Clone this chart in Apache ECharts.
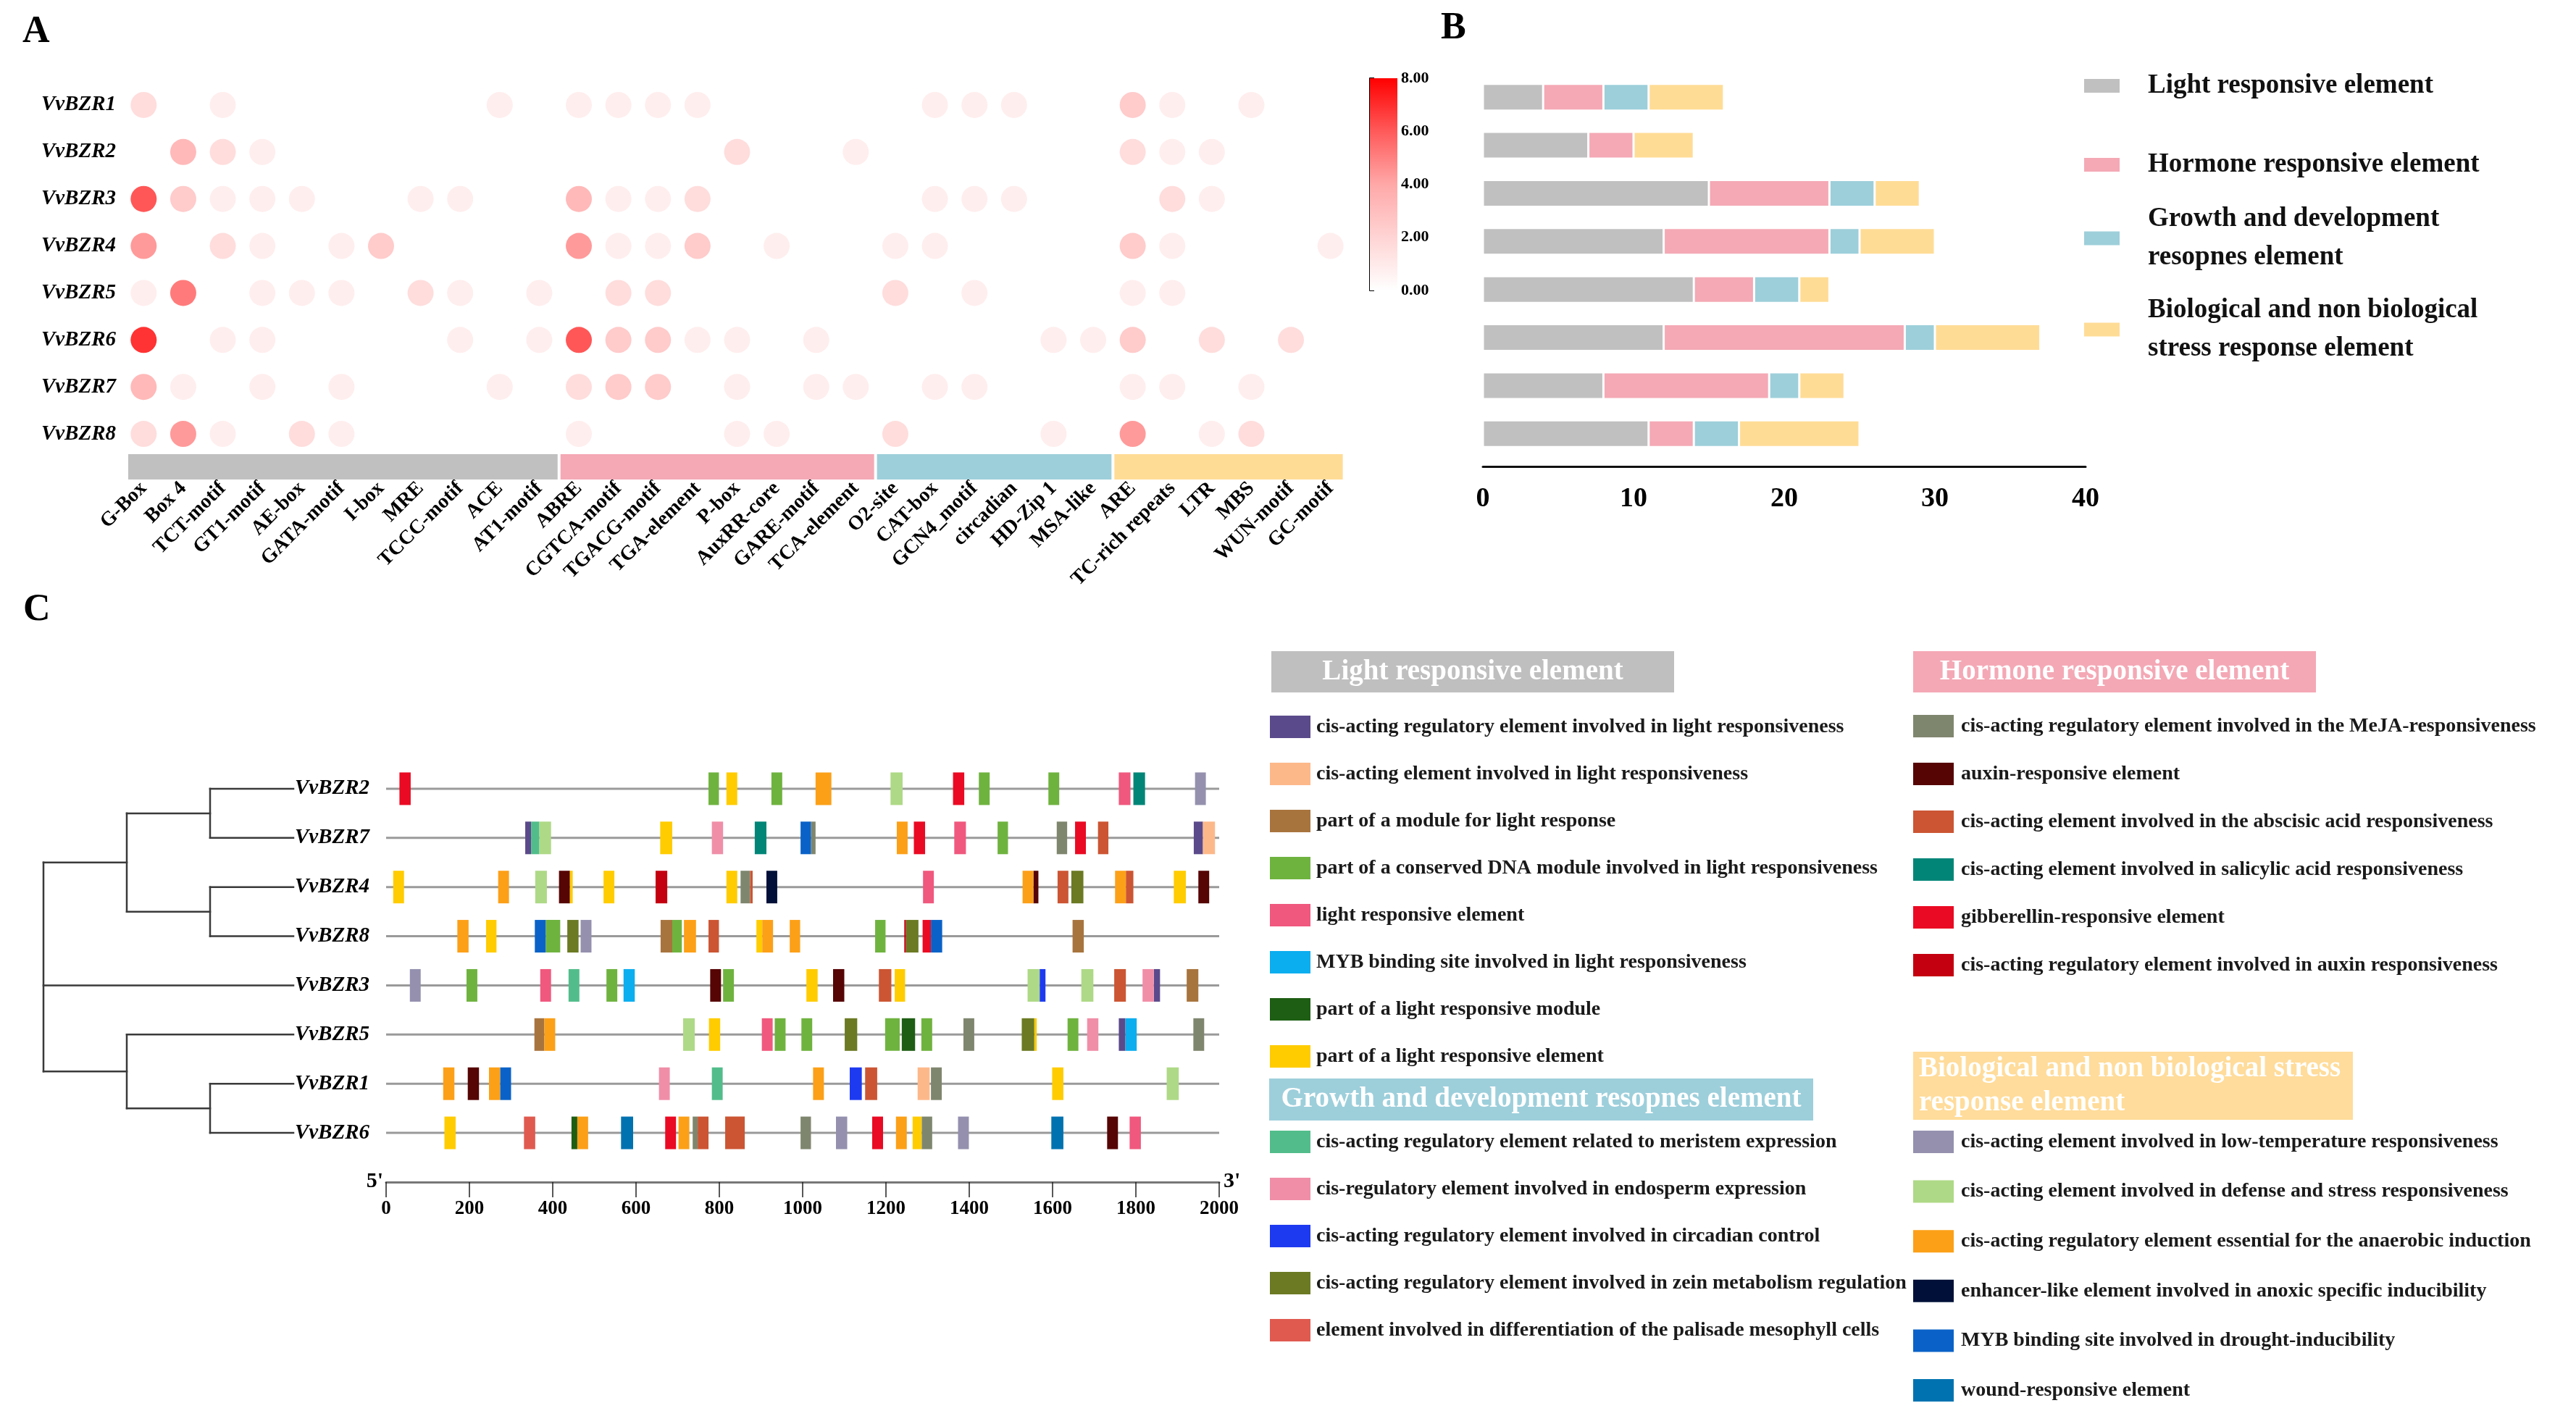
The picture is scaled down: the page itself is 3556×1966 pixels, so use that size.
<!DOCTYPE html>
<html>
<head>
<meta charset="utf-8">
<script src="https://cdn.jsdelivr.net/npm/echarts@6/dist/echarts.min.js"></script>
<style>html,body{margin:0;padding:0;background:#fff}#chart{width:3556px;height:1966px}</style>
</head>
<body>
<div id="chart"></div>
<script>
// ---------------- Panel A data ----------------
const genesA = ['VvBZR1','VvBZR2','VvBZR3','VvBZR4','VvBZR5','VvBZR6','VvBZR7','VvBZR8'];
const motifNames = ['G-Box','Box 4','TCT-motif','GT1-motif','AE-box','GATA-motif','I-box','MRE','TCCC-motif','ACE','AT1-motif',
  'ABRE','CGTCA-motif','TGACG-motif','TGA-element','P-box','AuxRR-core','GARE-motif','TCA-element',
  'O2-site','CAT-box','GCN4_motif','circadian','HD-Zip 1','MSA-like',
  'ARE','TC-rich repeats','LTR','MBS','WUN-motif','GC-motif'];
const heat_VvBZR1 = [2,0,1,0,0,0,0,0,0,1,0, 1,1,1,1,0,0,0,0, 0,1,1,1,0,0, 3,1,0,1,0,0];
const heat_VvBZR2 = [0,4,2,1,0,0,0,0,0,0,0, 0,0,0,0,2,0,0,1, 0,0,0,0,0,0, 2,1,1,0,0,0];
const heat_VvBZR3 = [7,3,1,1,1,0,0,1,1,0,0, 4,1,1,2,0,0,0,0, 0,1,1,1,0,0, 0,2,1,0,0,0];
const heat_VvBZR4 = [5,0,2,1,0,1,3,0,0,0,0, 5,1,1,3,0,1,0,0, 1,1,0,0,0,0, 3,1,0,0,0,1];
const heat_VvBZR5 = [1,6,0,1,1,1,0,2,1,0,1, 0,2,2,0,0,0,0,0, 2,0,1,0,0,0, 1,1,0,0,0,0];
const heat_VvBZR6 = [8,0,1,1,0,0,0,0,1,0,1, 7,3,3,1,1,0,1,0, 0,0,0,0,1,1, 3,0,2,0,2,0];
const heat_VvBZR7 = [4,1,0,1,0,1,0,0,0,1,0, 2,3,3,0,1,0,1,1, 0,1,1,0,0,0, 1,1,0,1,0,0];
const heat_VvBZR8 = [2,5,1,0,2,1,0,0,0,0,0, 1,0,0,0,1,1,0,0, 2,0,0,0,1,0, 5,0,1,2,0,0];
const heatRows = [heat_VvBZR1,heat_VvBZR2,heat_VvBZR3,heat_VvBZR4,heat_VvBZR5,heat_VvBZR6,heat_VvBZR7,heat_VvBZR8];
const groupNames = ['Light responsive element','Hormone responsive element','Growth and development\nresopnes element','Biological and non biological\nstress response element'];
const groupStart = [0, 11, 19, 25];
const groupEnd = [10, 18, 24, 30];
const groupColors = ['#C0C0C0','#F4A9B5','#9DCFDA','#FFDC96'];
const heatColors = ['#ffffff','#ffd4d4','#ffa8a8','#ff5a5a','#ff0000'];
const colorbarTicks = [0, 8, 2];

// ---------------- Panel B data ----------------
const bLight   = [4, 7, 15, 12, 14, 12, 8, 11];
const bHormone = [4, 3, 8, 11, 4, 16, 11, 3];
const bGrowth  = [3, 0, 3, 2, 3, 2, 2, 3];
const bStress  = [5, 4, 3, 5, 2, 7, 3, 8];

// ---------------- Panel C data ----------------
const genesC = ['VvBZR2','VvBZR7','VvBZR4','VvBZR8','VvBZR3','VvBZR5','VvBZR1','VvBZR6'];
const geneLength = [2000,2000,2000,2000,2000,2000,2000,2000];
const treeTopology = [[['VvBZR2','VvBZR7'],['VvBZR4','VvBZR8']],'VvBZR3',['VvBZR5',['VvBZR1','VvBZR6']]];
const elemCodes = ['L1','L2','L3','L4','L5','L6','L7','L8','G1','G2','G3','G4','G5','H1','H2','H3','H4','H5','H6','S1','S2','S3','S4','S5','S6'];
const elemNames = [
  'cis-acting regulatory element involved in light responsiveness',
  'cis-acting element involved in light responsiveness',
  'part of a module for light response',
  'part of a conserved DNA module involved in light responsiveness',
  'light responsive element',
  'MYB binding site involved in light responsiveness',
  'part of a light responsive module',
  'part of a light responsive element',
  'cis-acting regulatory element related to meristem expression',
  'cis-regulatory element involved in endosperm expression',
  'cis-acting regulatory element involved in circadian control',
  'cis-acting regulatory element involved in zein metabolism regulation',
  'element involved in differentiation of the palisade mesophyll cells',
  'cis-acting regulatory element involved in the MeJA-responsiveness',
  'auxin-responsive element',
  'cis-acting element involved in the abscisic acid responsiveness',
  'cis-acting element involved in salicylic acid responsiveness',
  'gibberellin-responsive element',
  'cis-acting regulatory element involved in auxin responsiveness',
  'cis-acting element involved in low-temperature responsiveness',
  'cis-acting element involved in defense and stress responsiveness',
  'cis-acting regulatory element essential for the anaerobic induction',
  'enhancer-like element involved in anoxic specific inducibility',
  'MYB binding site involved in drought-inducibility',
  'wound-responsive element'];
const elemColors = ['#5B4A8B','#FDB88A','#A8743E','#6FB33F','#F0587E','#0BAEEF','#1E5E14','#FFCC00',
  '#52BD8B','#F08EA8','#1E3AF0','#6B7A23','#E05A50',
  '#7F866E','#560404','#CC5533','#008577','#EA0A23','#C40010',
  '#9490AE','#AED986','#FCA018','#001038','#0A62C8','#0072B0'];
const motifs_VvBZR2 = [[32,59,'H5'],[774,799,'L4'],[817,843,'L8'],[925,951,'L4'],[1031,1069,'S3'],[1211,1240,'S2'],[1361,1388,'H5'],[1423,1449,'L4'],[1590,1616,'L4'],[1759,1787,'L5'],[1794,1822,'H4'],[1942,1968,'S1']];
const motifs_VvBZR7 = [[334,348,'L1'],[348,368,'G1'],[368,396,'S2'],[658,687,'L8'],[782,809,'G2'],[885,913,'H4'],[995,1020,'S5'],[1020,1031,'H1'],[1226,1252,'S3'],[1267,1294,'H5'],[1364,1392,'L5'],[1468,1493,'L4'],[1610,1635,'H1'],[1654,1680,'H5'],[1709,1734,'H3'],[1939,1961,'L1'],[1961,1990,'L2']];
const motifs_VvBZR4 = [[17,43,'L8'],[269,295,'S3'],[358,386,'S2'],[415,441,'H2'],[441,448,'L8'],[522,548,'L8'],[647,675,'H6'],[817,843,'L8'],[851,874,'H1'],[874,880,'H3'],[913,939,'S4'],[1289,1315,'L5'],[1528,1554,'S3'],[1554,1566,'H2'],[1612,1638,'H3'],[1645,1674,'G4'],[1750,1776,'S3'],[1776,1794,'H3'],[1891,1920,'L8'],[1950,1976,'H2']];
const motifs_VvBZR8 = [[171,198,'S3'],[240,265,'L8'],[357,383,'S5'],[383,418,'L4'],[435,462,'G4'],[467,493,'S1'],[659,687,'L3'],[687,710,'L4'],[715,744,'S3'],[774,799,'H3'],[889,903,'L8'],[903,929,'S3'],[969,994,'S3'],[1174,1199,'L4'],[1244,1248,'H6'],[1248,1278,'G4'],[1288,1308,'H5'],[1308,1335,'S5'],[1648,1675,'L3']];
const motifs_VvBZR3 = [[57,83,'S1'],[193,219,'L4'],[370,396,'L5'],[438,464,'G1'],[529,555,'L4'],[570,597,'L6'],[778,804,'H2'],[809,835,'L4'],[1009,1036,'L8'],[1073,1100,'H2'],[1183,1213,'H3'],[1221,1246,'L8'],[1540,1569,'S2'],[1569,1583,'G3'],[1669,1698,'S2'],[1748,1776,'H3'],[1816,1843,'G2'],[1843,1858,'L1'],[1922,1950,'L3']];
const motifs_VvBZR5 = [[356,380,'L3'],[380,406,'S3'],[713,741,'S2'],[775,802,'L8'],[902,928,'L5'],[933,959,'L4'],[997,1023,'L4'],[1101,1131,'G4'],[1198,1233,'L4'],[1238,1270,'L7'],[1285,1311,'L4'],[1386,1412,'H1'],[1526,1556,'G4'],[1556,1562,'L8'],[1636,1662,'L4'],[1683,1710,'G2'],[1759,1775,'L1'],[1775,1802,'L6'],[1938,1964,'H1']];
const motifs_VvBZR1 = [[137,164,'S3'],[196,223,'H2'],[247,274,'S3'],[274,300,'S5'],[655,681,'G2'],[782,808,'G1'],[1025,1051,'S3'],[1113,1142,'G3'],[1150,1179,'H3'],[1276,1305,'L2'],[1308,1334,'H1'],[1599,1626,'L8'],[1874,1903,'S2']];
const motifs_VvBZR6 = [[140,167,'L8'],[331,358,'G5'],[445,459,'L7'],[459,485,'S3'],[564,593,'S6'],[670,696,'H5'],[702,728,'S3'],[736,748,'H1'],[748,774,'H3'],[814,861,'H3'],[995,1020,'H1'],[1080,1107,'S1'],[1167,1193,'H5'],[1224,1250,'S3'],[1264,1286,'L8'],[1286,1311,'H1'],[1373,1399,'S1'],[1597,1626,'S6'],[1731,1757,'H2'],[1785,1812,'L5']];
const motifsByGene = [motifs_VvBZR2,motifs_VvBZR7,motifs_VvBZR4,motifs_VvBZR8,motifs_VvBZR3,motifs_VvBZR5,motifs_VvBZR1,motifs_VvBZR6];

// ---------------- build ----------------
const FONT = '"Liberation Serif", "Times New Roman", serif';
const heatData = [];
heatRows.forEach((row, i) => row.forEach((v, j) => { if (v > 0) heatData.push([j, i, v]); }));

const stripData = groupStart.map((s, k) => [s, groupEnd[k], k]);

const series = [];
series.push({
  type: 'scatter', xAxisIndex: 0, yAxisIndex: 0, symbol: 'circle', symbolSize: 36,
  data: heatData, silent: true
});
series.push({
  type: 'custom', xAxisIndex: 1, yAxisIndex: 1, data: stripData, silent: true,
  renderItem: function (params, api) {
    const s = api.value(0), e = api.value(1), k = api.value(2);
    const bw = api.size([1, 0])[0];
    const cs = params.coordSys;
    const x0 = api.coord([s, 0])[0] - bw * (s === 0 ? 0.39 : 0.5) + (s === 0 ? 0 : 2);
    const x1 = api.coord([e, 0])[0] + bw * (e === motifNames.length - 1 ? 0.31 : 0.5) - (e === motifNames.length - 1 ? 0 : 2);
    return { type: 'rect', shape: { x: x0, y: cs.y, width: x1 - x0, height: cs.height }, style: { fill: groupColors[k] } };
  }
});
series.push({
  type: 'custom', xAxisIndex: 2, yAxisIndex: 2, data: [[0, colorbarTicks[1]]], silent: true,
  renderItem: function (params, api) {
    const cs = params.coordSys;
    const stops = heatColors.map((c, i) => ({ offset: i / (heatColors.length - 1), color: c }));
    return { type: 'rect', shape: { x: cs.x, y: cs.y, width: cs.width, height: cs.height },
      style: { fill: new echarts.graphic.LinearGradient(0, 1, 0, 0, stops) } };
  }
});
[bLight, bHormone, bGrowth, bStress].forEach((arr, k) => {
  series.push({
    type: 'bar', name: groupNames[k], stack: 'b', xAxisIndex: 3, yAxisIndex: 3, barWidth: 37,
    data: arr, itemStyle: { color: groupColors[k], borderColor: '#ffffff', borderWidth: 1.5 }, silent: true
  });
});
series.push({
  type: 'custom', xAxisIndex: 4, yAxisIndex: 4, data: [[0, 0]], silent: true,
  renderItem: function (params, api) {
    const lines = [];
    const leafDepth = 3;
    function lay(node, depth) {
      if (typeof node === 'string') {
        const p = api.coord([leafDepth, genesC.indexOf(node)]);
        return { x: p[0], y: p[1] };
      }
      const kids = node.map(c => lay(c, depth + 1));
      const px = api.coord([depth, 0])[0];
      const ys = kids.map(c => c.y);
      const y0 = Math.min.apply(null, ys), y1 = Math.max.apply(null, ys);
      lines.push([px, y0, px, y1]);
      kids.forEach(c => lines.push([px, c.y, c.x, c.y]));
      return { x: px, y: (y0 + y1) / 2 };
    }
    lay(treeTopology, 0);
    return { type: 'group', children: lines.map(l => ({
      type: 'line', shape: { x1: l[0], y1: l[1], x2: l[2], y2: l[3] },
      style: { stroke: '#3a3a3a', lineWidth: 2.5, lineCap: 'square' } })) };
  }
});
series.push({
  type: 'custom', xAxisIndex: 5, yAxisIndex: 5, silent: true, z: 1,
  data: geneLength.map((len, i) => [i, 0, len]),
  renderItem: function (params, api) {
    const p0 = api.coord([api.value(1), api.value(0)]);
    const p1 = api.coord([api.value(2), api.value(0)]);
    return { type: 'line', shape: { x1: p0[0], y1: p0[1], x2: p1[0], y2: p1[1] }, style: { stroke: '#9a9a9a', lineWidth: 3 } };
  }
});
elemCodes.forEach((code, k) => {
  const d = [];
  motifsByGene.forEach((list, gi) => list.forEach(m => { if (m[2] === code) d.push([gi, m[0], m[1]]); }));
  series.push({
    type: 'custom', name: elemNames[k], xAxisIndex: 5, yAxisIndex: 5, z: 3, silent: true,
    itemStyle: { color: elemColors[k] }, data: d,
    encode: { x: [1, 2], y: 0 },
    renderItem: function (params, api) {
      const p0 = api.coord([api.value(1), api.value(0)]);
      const p1 = api.coord([api.value(2), api.value(0)]);
      const h = 45;
      return { type: 'rect', shape: { x: p0[0], y: p0[1] - h / 2, width: p1[0] - p0[0], height: h },
        style: { fill: api.visual('color') } };
    }
  });
});

const legendTextC = { fontFamily: FONT, fontSize: 28, fontWeight: 'bold', color: '#1a1a1a', lineHeight: 31 };
function legendC(names, left, top, gap, pad) {
  return { data: names, left: left, top: top, orient: 'vertical', icon: 'rect', itemWidth: 56, itemHeight: 31,
    itemGap: gap, selectedMode: false, textStyle: Object.assign({ padding: [0, 0, 0, pad] }, legendTextC) };
}
function legendB(name, top) {
  return { data: [name], left: 2870, top: top, orient: 'vertical', icon: 'rect', itemWidth: 51, itemHeight: 21,
    selectedMode: false, textStyle: { fontFamily: FONT, fontSize: 37, fontWeight: 'bold', color: '#111', lineHeight: 53, padding: [0, 0, 0, 33] } };
}

function header(x, y, w, h, fill, text, align, lh) {
  return { type: 'group', children: [
    { type: 'rect', shape: { x: x, y: y, width: w, height: h }, style: { fill: fill } },
    { type: 'text', x: align === 'center' ? x + w / 2 : x + 8, y: y + h / 2,
      style: { text: text, fill: '#ffffff', font: 'bold 39px ' + FONT, align: align, verticalAlign: 'middle', lineHeight: lh } }
  ] };
}

const option = {
  animation: false,
  backgroundColor: '#ffffff',
  title: [
    { text: 'A', left: 31, top: 19, padding: 0, textStyle: { fontFamily: FONT, fontSize: 52, fontWeight: 'bold', color: '#000' } },
    { text: 'B', left: 1989, top: 14, padding: 0, textStyle: { fontFamily: FONT, fontSize: 52, fontWeight: 'bold', color: '#000' } },
    { text: 'C', left: 32, top: 817, padding: 0, textStyle: { fontFamily: FONT, fontSize: 52, fontWeight: 'bold', color: '#000' } }
  ],
  visualMap: { type: 'continuous', show: false, min: colorbarTicks[0], max: colorbarTicks[1], dimension: 2, seriesIndex: 0, inRange: { color: heatColors } },
  grid: [
    { left: 171, top: 112.5, width: 1693, height: 519 },
    { left: 171, top: 627, width: 1693, height: 35 },
    { left: 1891, top: 108, width: 38, height: 293 },
    { left: 2047, top: 101, width: 832, height: 531 },
    { left: 60, top: 1055, width: 345, height: 543 },
    { left: 533, top: 1055, width: 1150, height: 543 }
  ],
  xAxis: [
    { gridIndex: 0, type: 'category', data: motifNames, show: false },
    { gridIndex: 1, type: 'category', data: motifNames, axisLine: { show: false }, axisTick: { show: false },
      axisLabel: { interval: 0, rotate: 45, margin: 8, fontFamily: FONT, fontSize: 28, fontWeight: 'bold', color: '#000' } },
    { gridIndex: 2, type: 'value', min: 0, max: 1, show: false },
    { gridIndex: 3, type: 'value', min: 0, max: 40, interval: 10, offset: 12,
      axisLine: { show: true, lineStyle: { color: '#111', width: 3 } }, axisTick: { show: false }, splitLine: { show: false },
      axisLabel: { margin: 26, fontFamily: FONT, fontSize: 38, fontWeight: 'bold', color: '#000' } },
    { gridIndex: 4, type: 'value', min: 0, max: 3, show: false },
    { gridIndex: 5, type: 'value', min: 0, max: 2000, interval: 200, offset: 34, position: 'bottom',
      axisLine: { show: true, lineStyle: { color: '#777', width: 3 } },
      axisTick: { show: true, length: 21, lineStyle: { color: '#222', width: 1.5 } },
      splitLine: { show: false },
      name: "5'", nameLocation: 'start', nameGap: 4,
      nameTextStyle: { fontFamily: FONT, fontSize: 30, fontWeight: 'bold', color: '#000', verticalAlign: 'bottom', padding: [0, 0, -14, 0] },
      axisLabel: { margin: 24, formatter: v => String(v), fontFamily: FONT, fontSize: 27, fontWeight: 'bold', color: '#000' } },
    { gridIndex: 5, type: 'value', min: 0, max: 2000, offset: 34, position: 'bottom',
      axisLine: { show: false }, axisTick: { show: false }, axisLabel: { show: false }, splitLine: { show: false },
      name: "3'", nameLocation: 'end', nameGap: 6,
      nameTextStyle: { fontFamily: FONT, fontSize: 30, fontWeight: 'bold', color: '#000', verticalAlign: 'bottom', padding: [0, 0, -14, 0] } }
  ],
  yAxis: [
    { gridIndex: 0, type: 'category', data: genesA, inverse: true, axisLine: { show: false }, axisTick: { show: false },
      axisLabel: { margin: 11, fontFamily: FONT, fontSize: 29, fontWeight: 'bold', fontStyle: 'italic', color: '#000' } },
    { gridIndex: 1, type: 'category', data: ['g'], show: false },
    { gridIndex: 2, type: 'value', min: colorbarTicks[0], max: colorbarTicks[1], interval: colorbarTicks[2], position: 'right',
      axisLine: { show: true, lineStyle: { color: '#000', width: 2 } }, axisTick: { show: true, length: 6, lineStyle: { color: '#000', width: 2 } },
      splitLine: { show: false },
      axisLabel: { margin: 5, formatter: v => v.toFixed(2), fontFamily: FONT, fontSize: 22, fontWeight: 'bold', color: '#000' } },
    { gridIndex: 3, type: 'category', data: genesA, inverse: true, show: false },
    { gridIndex: 4, type: 'category', data: genesC, inverse: true, show: false },
    { gridIndex: 5, type: 'category', data: genesC, inverse: true, axisLine: { show: false }, axisTick: { show: false },
      axisLabel: { margin: 23, fontFamily: FONT, fontSize: 29, fontWeight: 'bold', fontStyle: 'italic', color: '#000' } }
  ],
  legend: [
    legendB(groupNames[0], 87),
    legendB(groupNames[1], 196),
    legendB(groupNames[2], 271),
    legendB(groupNames[3], 397),
    legendC(elemNames.slice(0, 8), 1748, 983, 34, 3),
    legendC(elemNames.slice(8, 13), 1748, 1556, 34, 3),
    legendC(elemNames.slice(13, 19), 2636, 982, 35, 5),
    legendC(elemNames.slice(19, 25), 2636, 1556, 37.6, 5)
  ],
  graphic: [
    header(1755, 899, 556, 57, '#BFBFBF', 'Light responsive element', 'center', 44),
    header(1752, 1489, 751, 58, '#9DCFDB', 'Growth and development resopnes element', 'center', 44),
    header(2641, 899, 556, 57, '#F4A8B5', 'Hormone responsive element', 'center', 44),
    header(2641, 1452, 607, 94, '#FFDC9B', 'Biological and non biological stress\nresponse element', 'left', 47)
  ],
  series: series
};

const chart = echarts.init(document.getElementById('chart'), null, { renderer: 'canvas' });
chart.setOption(option);
</script>
</body>
</html>
